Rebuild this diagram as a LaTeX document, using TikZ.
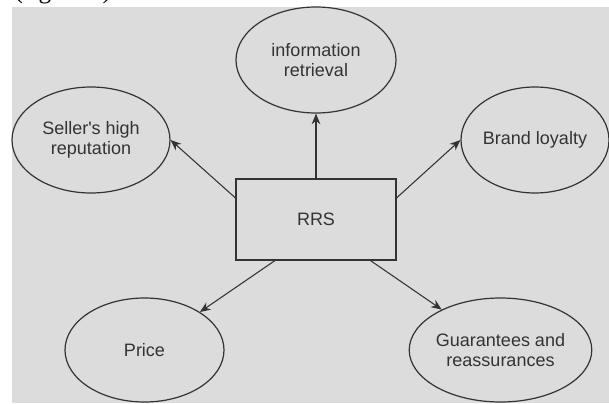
\documentclass[tikz,border=0pt]{standalone}
\usepackage{fontspec}
\setmainfont{Liberation Sans}
\newfontfamily\captionfont{Liberation Serif}
\usetikzlibrary{shapes.geometric,arrows.meta}

\definecolor{panelgray}{HTML}{DCDCDC}
\definecolor{inkgray}{HTML}{333333}

\begin{document}
\begin{tikzpicture}
        [x=0.75pt,y=-0.75pt,>={Stealth[length=8pt,width=6.5pt]},
         every node/.style={text=inkgray, font=\fontsize{13.5}{15}\selectfont, align=center},
         bubble/.style={draw=inkgray, line width=0.9pt, ellipse, inner sep=0pt},
         link/.style={->, draw=inkgray, line width=0.8pt}]
      \useasboundingbox (0,0) rectangle (609,403);
      \clip (0,0) rectangle (609,403);
      \fill[panelgray] (12,7) rectangle (609,403);
      \node[anchor=base west, font=\captionfont\fontsize{19}{22}\selectfont, text=black] (cap) at (10,-1) {(figure 6).};

      \node[draw=inkgray, line width=0.9pt, minimum width=120pt, minimum height=60.75pt] (rrs) at (316,219.5) {RRS};
      \node[bubble, minimum width=120pt, minimum height=79.5pt] (info) at (316,60) {information\\retrieval};
      \node[bubble, minimum width=118.5pt, minimum height=79.5pt] (seller) at (91,140) {Seller\textquotesingle s high\\reputation};
      \node[bubble, minimum width=111pt, minimum height=79.5pt] (brand) at (535,140) {Brand loyalty};
      \node[bubble, minimum width=119.25pt, minimum height=78pt] (price) at (144.5,350) {Price};
      \node[bubble, minimum width=119.25pt, minimum height=78pt] (guar) at (500.5,350) {Guarantees and\\reassurances};

      \foreach \from/\to in {rrs.north/info.south, rrs.165/seller.east, rrs.15/brand.west, rrs.225/price, rrs.323/guar}
        \draw[link] (\from) -- (\to);
    \end{tikzpicture}
\end{document}
